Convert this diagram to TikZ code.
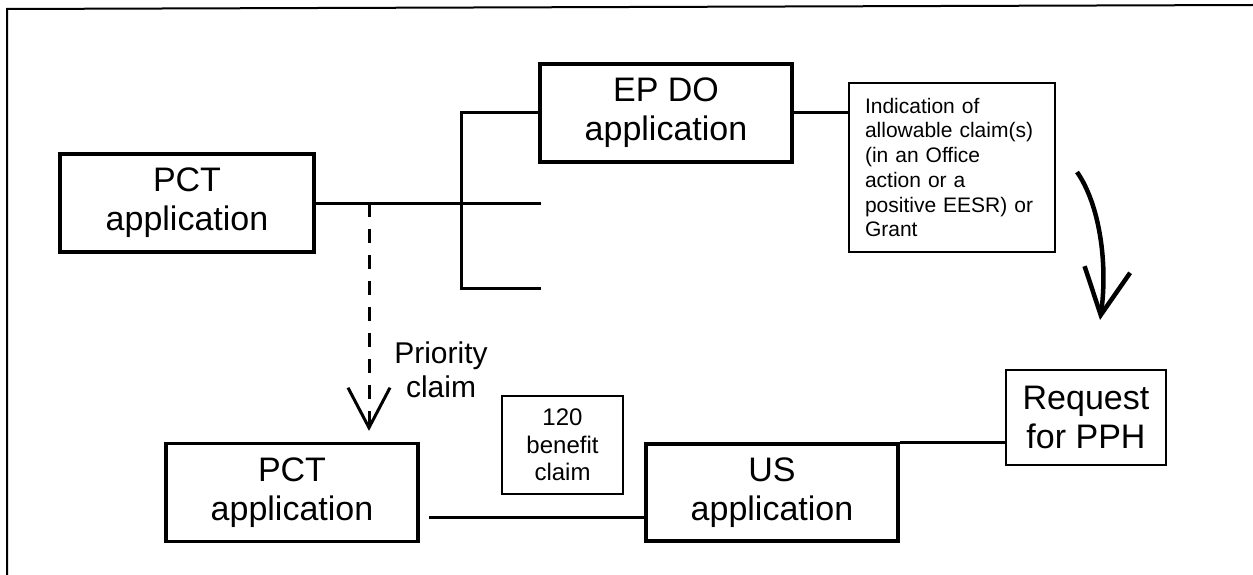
\documentclass[tikz,border=0pt]{standalone}
\usepackage{fontspec}
\setmainfont{Liberation Sans}
\usetikzlibrary{arrows.meta}
\begin{document}
\begin{tikzpicture}[x=1pt,y=-1pt,
  bigbox/.style={draw, line width=3.2pt, minimum width=252pt, minimum height=98pt, align=center, inner sep=0pt, font=\fontsize{34}{39}\selectfont},
  thinbox/.style={draw, line width=1.4pt, inner sep=0pt, align=center},
  conn/.style={line width=3pt},
  framestyle/.style={line width=2pt}
  ]
\useasboundingbox (0,0) rectangle (1253,575);
\draw[framestyle] (7,575) -- (7,9) -- (1253,5);

\node[bigbox, minimum width=254pt] (pct1) at (187,203) {PCT\\application};
\node[bigbox] (ep) at (666,113) {EP DO\\application};
\node[thinbox, minimum width=206pt, minimum height=169pt, text width=174pt, align=left, font=\fontsize{21}{24.7}\selectfont] (ind) at (952,167.5) {Indication of\\allowable claim(s)\\(in an Office\\action or a\\positive EESR) or\\Grant};
\node[bigbox] (pct2) at (292,492.5) {PCT\\application};
\node[thinbox, minimum width=121pt, minimum height=98pt, font=\fontsize{24}{27.6}\selectfont] (ben) at (562.5,445) {120\\benefit\\claim};
\node[bigbox, minimum height=97pt] (us) at (772,492.5) {US\\application};
\node[thinbox, minimum width=160pt, minimum height=95pt, font=\fontsize{34}{39}\selectfont] (req) at (1086,417.5) {Request\\for PPH};
\node[font=\fontsize{30}{34.5}\selectfont, align=center, inner sep=0pt] (prio) at (441,370) {Priority\\claim};

\coordinate (bt) at (461,113);
\coordinate (bm) at (541,203);
\coordinate (bb) at (461,288);
\coordinate (bbe) at (541,288);
\draw[conn] (pct1.east) -- (bm);
\draw[conn] (ep.west) -- (bt) -- (bb) -- (bbe);
\draw[conn] (ep.east) -- (ep.east -| ind.west);

\coordinate (dtop) at (369,203);
\draw[conn, dash pattern=on 14pt off 12pt, -{Straight Barb[length=40pt,width=42pt,line width=3pt]}, shorten >=11pt] (dtop) -- (dtop |- pct2.north);

\coordinate (bl) at (429,517);
\draw[conn] (bl) -- (bl -| us.west);
\draw[conn] (us.north east) -- (us.north east -| req.west);

\coordinate (ca1) at (1077,172);
\coordinate (ca2) at (1100,320);
\draw[line width=4.5pt, -{Straight Barb[length=46pt,width=46pt,line width=4.5pt]}] (ca1) .. controls (1100,205) and (1108,265) .. (ca2);
\end{tikzpicture}
\end{document}
